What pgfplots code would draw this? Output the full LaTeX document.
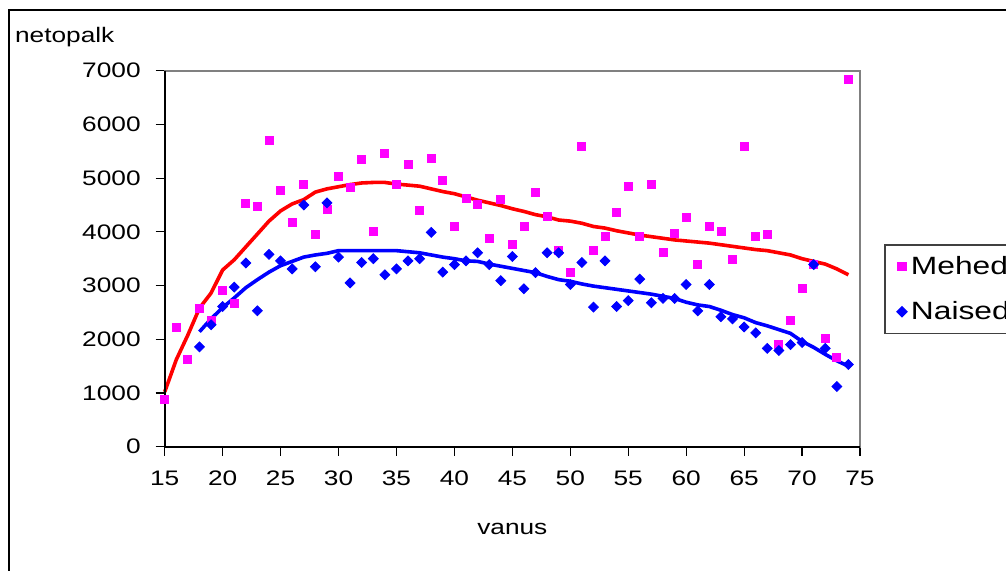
\documentclass[border=0pt]{standalone}
\usepackage{fontspec}
\setmainfont{Liberation Sans}[FakeStretch=1.25]
\newfontfamily\legfont{Liberation Sans}[FakeStretch=1.27]
\usepackage{pgfplots}
\pgfplotsset{compat=1.18}
\definecolor{xlmag}{RGB}{255,0,255}
\definecolor{xlblue}{RGB}{0,0,255}
\definecolor{xlred}{RGB}{255,0,0}
\definecolor{xlgray}{RGB}{128,128,128}
\begin{document}
\begin{tikzpicture}
\useasboundingbox (0,0) rectangle (503pt,285pt);
\clip (0,0) rectangle (503pt,285pt);
\fill[white] (0,0) rectangle (503pt,285pt);
\draw[line width=1.1pt] (4.6pt,-5pt) rectangle (520pt,280.2pt);
\begin{axis}[
  at={(82.35pt,61.65pt)}, anchor=south west,
  scale only axis, width=347.65pt, height=188pt,
  xmin=15, xmax=75, ymin=0, ymax=7000,
  xtick={15,20,...,75}, ytick={0,1000,...,7000},
  xtick pos=left, ytick pos=left,
  tick align=outside, major tick length=4.5pt,
  tick style={black, line width=0.6pt},
  axis line style={xlgray, line width=0.9pt},
  scaled ticks=false,
  /pgf/number format/assume math mode=true,
  /pgf/number format/1000 sep={},
  tick label style={font=\fontsize{10.5}{12}\selectfont},
  yticklabel style={xshift=-4pt},
  xticklabel style={yshift=-4pt},
  xlabel={vanus},
  xlabel style={font=\fontsize{10.5}{12}\selectfont, at={(axis description cs:0.5,-0.233)}, anchor=base, inner sep=0pt},
  ylabel={netopalk},
  ylabel style={rotate=-90, font=\fontsize{10.5}{12}\selectfont, at={(axis description cs:-0.2157,1.0755)}, anchor=base west, inner sep=0pt},
  legend style={at={(axis description cs:1.035,0.538)}, anchor=north west,
    draw=black!75, line width=0.7pt, font=\legfont\fontsize{12.5}{14}\selectfont,
    row sep=8pt, inner xsep=6pt, inner ysep=3.5pt},
  legend cell align=left,
  clip=false,
]
\addplot[only marks, mark=square*, mark size=2pt, color=xlmag] coordinates {
(15,880) (16,2220) (17,1620) (18,2570) (19,2360) (20,2910) (21,2660) (22,4530)
(23,4480) (24,5710) (25,4780) (26,4180) (27,4890) (28,3960) (29,4410) (30,5040)
(31,4820) (32,5350) (33,4000) (34,5460) (35,4890) (36,5260) (37,4400) (38,5370)
(39,4960) (40,4110) (41,4630) (42,4520) (43,3880) (44,4610) (45,3770) (46,4100)
(47,4740) (48,4290) (49,3650) (50,3250) (51,5600) (52,3660) (53,3910) (54,4370)
(55,4850) (56,3920) (57,4890) (58,3620) (59,3970) (60,4260) (61,3400) (62,4110)
(63,4010) (64,3480) (65,5600) (66,3920) (67,3960) (68,1910) (69,2360) (70,2950)
(71,3400) (72,2020) (73,1660) (74,6830)
};
\addlegendentry{Mehed}
\addplot[only marks, mark=square*, mark size=1.75pt, mark options={rotate=45}, color=xlblue] coordinates {
(18,1860) (19,2270) (20,2610) (21,2970) (22,3420) (23,2530) (24,3580) (25,3460)
(26,3310) (27,4500) (28,3350) (29,4540) (30,3530) (31,3050) (32,3430) (33,3500)
(34,3200) (35,3310) (36,3460) (37,3500) (38,3990) (39,3250) (40,3390) (41,3460)
(42,3610) (43,3390) (44,3090) (45,3540) (46,2940) (47,3240) (48,3610) (49,3610)
(50,3020) (51,3430) (52,2600) (53,3460) (54,2610) (55,2720) (56,3120) (57,2680)
(58,2760) (59,2760) (60,3020) (61,2530) (62,3020) (63,2420) (64,2380) (65,2230)
(66,2120) (67,1830) (68,1790) (69,1900) (70,1940) (71,3390) (72,1830) (73,1120)
(74,1530)
};
\addlegendentry{Naised}
\addplot[forget plot, xlred, line width=1.8pt] coordinates {
(15,1020) (16,1620) (17,2080) (18,2580) (19,2860) (20,3290) (21,3480) (22,3720)
(23,3960) (24,4200) (25,4390) (26,4520) (27,4600) (28,4740) (29,4800) (30,4840)
(31,4880) (32,4910) (33,4920) (34,4920) (35,4890) (36,4870) (37,4850) (38,4800)
(39,4750) (40,4710) (41,4650) (42,4590) (43,4540) (44,4490) (45,4430) (46,4380)
(47,4320) (48,4280) (49,4220) (50,4200) (51,4160) (52,4100) (53,4070) (54,4020)
(55,3980) (56,3940) (57,3910) (58,3880) (59,3850) (60,3830) (61,3810) (62,3790)
(63,3760) (64,3730) (65,3700) (66,3670) (67,3650) (68,3610) (69,3570) (70,3500)
(71,3450) (72,3400) (73,3310) (74,3200)
};
\addplot[forget plot, xlblue, line width=1.8pt] coordinates {
(18,2140) (19,2380) (20,2590) (21,2770) (22,2960) (23,3110) (24,3250) (25,3370)
(26,3450) (27,3530) (28,3570) (29,3600) (30,3650) (31,3650) (32,3650) (33,3650)
(34,3650) (35,3650) (36,3630) (37,3610) (38,3570) (39,3530) (40,3500) (41,3460)
(42,3450) (43,3400) (44,3360) (45,3320) (46,3280) (47,3240) (48,3170) (49,3110)
(50,3080) (51,3030) (52,2990) (53,2960) (54,2930) (55,2900) (56,2870) (57,2840)
(58,2800) (59,2760) (60,2690) (61,2640) (62,2610) (63,2540) (64,2460) (65,2400)
(66,2310) (67,2250) (68,2180) (69,2110) (70,1960) (71,1850) (72,1720) (73,1600)
(74,1500)
};
\draw[black, line width=0.9pt] (rel axis cs:0,1) -- (rel axis cs:0,0) -- (rel axis cs:1,0);
\end{axis}
\end{tikzpicture}
\end{document}
